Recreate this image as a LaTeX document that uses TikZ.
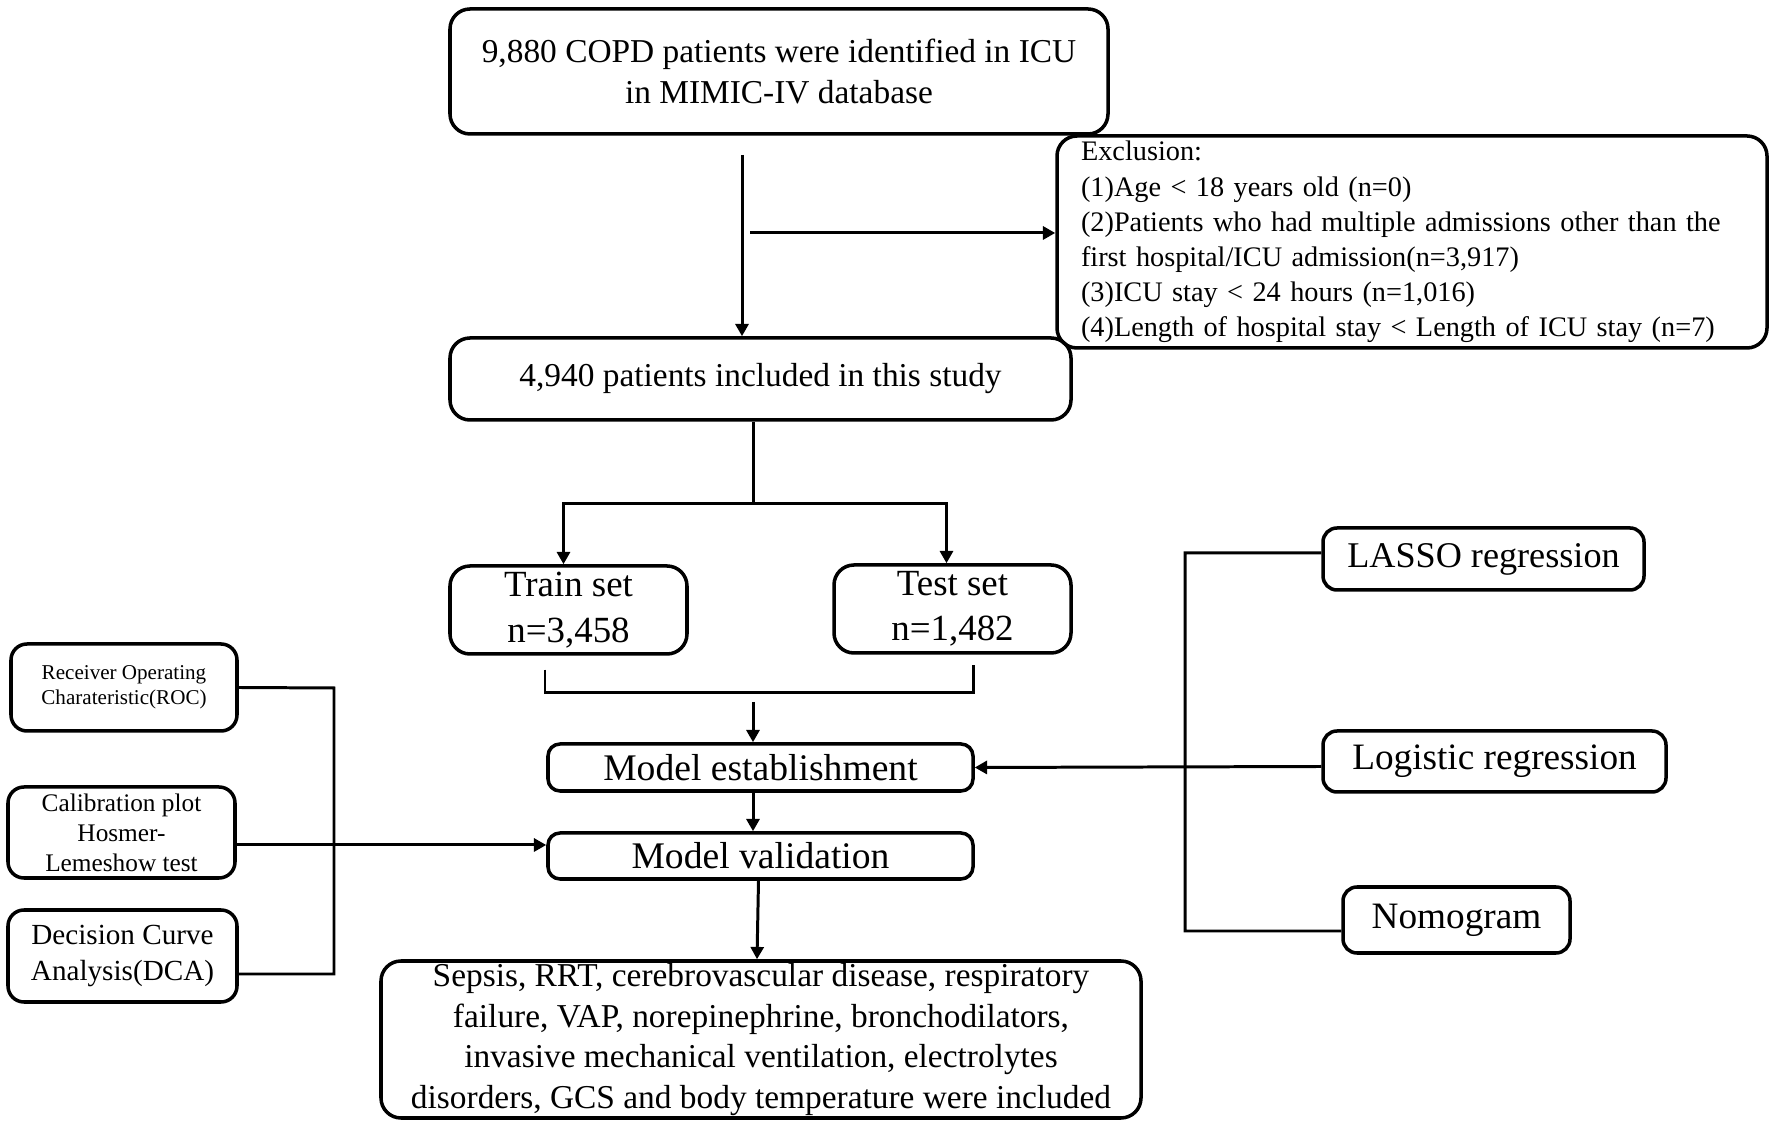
\documentclass[tikz,border=0pt]{standalone}
\usepackage{fontspec}
\setmainfont{Liberation Serif}
\usepackage{tikz}
\usetikzlibrary{arrows.meta}

\begin{document}
\begin{tikzpicture}[
    box/.style={draw, line width=1pt, rounded corners=2mm, align=center, inner sep=0pt},
    conn/.style={line width=0.85pt},
    arr/.style={line width=0.85pt, -{Triangle[length=3.5pt,width=3.7pt]}}
  ]
  \useasboundingbox (0,0) rectangle (17.72,11.23);

  \node[box, minimum width=6.58cm, minimum height=1.25cm, font=\fontsize{9.5}{11.4}\selectfont] (top) at (7.79,10.515)
    {9,880 COPD patients were identified in ICU\\in MIMIC-IV database};
  \node[box, align=left, text width=6.62cm, inner xsep=2.4mm, minimum height=2.12cm, font=\fontsize{8.05}{10}\selectfont] (excl) at (14.12,8.81)
    {Exclusion:\\(1)Age < 18 years old (n=0)\\(2)Patients who had multiple admissions other than the\\first hospital/ICU admission(n=3,917)\\(3)ICU stay < 24 hours (n=1,016)\\(4)Length of hospital stay < Length of ICU stay (n=7)};
  \node[box, minimum width=6.21cm, minimum height=0.82cm, font=\fontsize{9.5}{11.4}\selectfont] (incl) at (7.605,7.44)
    {4,940 patients included in this study};

  \node[box, minimum width=2.37cm, minimum height=0.88cm, font=\fontsize{10.5}{12.9}\selectfont] (train) at (5.685,5.13)
    {Train set\\n=3,458};
  \node[box, minimum width=2.37cm, minimum height=0.88cm, font=\fontsize{10.5}{12.9}\selectfont] (test) at (9.525,5.14)
    {Test set\\n=1,482};

  \node[box, rounded corners=1.2mm, minimum width=4.25cm, minimum height=0.47cm, font=\fontsize{10.7}{12.9}\selectfont] (build) at (7.605,3.555)
    {Model establishment};
  \node[box, rounded corners=1.2mm, minimum width=4.25cm, minimum height=0.46cm, font=\fontsize{10.7}{12.9}\selectfont] (valid) at (7.605,2.67)
    {Model validation};
  \node[box, minimum width=7.60cm, minimum height=1.57cm, font=\fontsize{9.5}{11.5}\selectfont] (result) at (7.61,0.835)
    {Sepsis, RRT, cerebrovascular disease, respiratory\\failure, VAP, norepinephrine, bronchodilators,\\invasive mechanical ventilation, electrolytes\\disorders, GCS and body temperature were included};

  \node[box, rounded corners=1.6mm, minimum width=2.26cm, minimum height=0.87cm, font=\fontsize{6}{7.1}\selectfont] (roc) at (1.24,4.355)
    {Receiver Operating\\Charateristic(ROC)};
  \node[box, rounded corners=1.6mm, minimum width=2.27cm, minimum height=0.91cm, font=\fontsize{7.2}{8.5}\selectfont] (calib) at (1.215,2.905)
    {Calibration plot\\Hosmer-\\Lemeshow test};
  \node[box, rounded corners=1.6mm, minimum width=2.29cm, minimum height=0.92cm, font=\fontsize{8.3}{10}\selectfont] (dca) at (1.225,1.67)
    {Decision Curve\\Analysis(DCA)};

  \node[box, rounded corners=1.4mm, minimum width=3.21cm, minimum height=0.62cm, font=\fontsize{10.3}{12}\selectfont] (lasso) at (14.835,5.64)
    {LASSO regression};
  \node[box, rounded corners=1.4mm, minimum width=3.43cm, minimum height=0.61cm, font=\fontsize{10.6}{12}\selectfont] (logit) at (14.945,3.615)
    {Logistic regression};
  \node[box, rounded corners=1.4mm, minimum width=2.27cm, minimum height=0.66cm, font=\fontsize{10.6}{12}\selectfont] (nomo) at (14.565,2.03)
    {Nomogram};

  \coordinate (down) at (7.42,9.68);
  \coordinate (side) at (7.50,8.90);
  \coordinate (fork) at (7.53,6.19);
  \coordinate (joinL) at (5.45,4.30);
  \coordinate (joinR) at (9.73,4.30);
  \coordinate (join) at (7.53,4.21);
  \coordinate (leftbar) at (3.34,4.35);
  \coordinate (rightbar) at (11.85,5.70);

  \draw[arr] (down) -- (down |- incl.north);
  \draw[arr] (side) -- (side -| excl.west);

  \draw[conn] (incl.south -| fork) -- (fork);
  \draw[arr] (fork) -| ([xshift=-0.5mm]train.north);
  \draw[arr] (fork) -| ([xshift=-0.6mm]test.north);

  \draw[conn] ([yshift=-1.4mm]train.south -| joinL) -- (joinL) -- (joinR) -- ([yshift=-1mm]test.south -| joinR);
  \draw[arr] (join) -- (join |- build.north);
  \draw[arr] (build.south -| join) -- (valid.north -| join);
  \draw[arr] ([xshift=-0.2mm]valid.south) -- ([xshift=-0.4mm]result.north);

  \draw[conn] (roc.east) -- (leftbar) |- ([yshift=-1.8mm]dca.east);
  \draw[arr] ([yshift=-1.25mm]calib.east) -- ([yshift=-1.25mm]calib.east -| valid.west);

  \draw[conn] ([yshift=0.6mm]lasso.west) -- (rightbar) |- ([yshift=-1.1mm]nomo.west);
  \draw[arr] ([yshift=-0.5mm]logit.west) -- (build.east);
\end{tikzpicture}
\end{document}
